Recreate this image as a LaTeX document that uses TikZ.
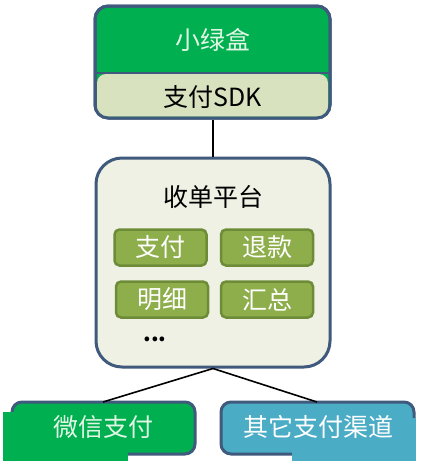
\documentclass[tikz,border=0pt]{standalone}
\usepackage{fontspec}
\newfontfamily\cjk{Noto Sans CJK SC}
\definecolor{bord}{HTML}{3F5A7C}
\definecolor{topgreen}{HTML}{00B050}
\definecolor{sdkfill}{HTML}{D8E2BE}
\definecolor{midfill}{HTML}{EEF1E3}
\definecolor{btnfill}{HTML}{8DAE4B}
\definecolor{btnbord}{HTML}{6E8C38}
\definecolor{mint}{HTML}{E2F6E6}
\definecolor{teal}{HTML}{4BACC6}
\tikzset{
  btn/.style={draw=btnbord, line width=2.5pt, fill=btnfill, rounded corners=5pt,
    minimum width=92pt, minimum height=36pt, text=white, font=\cjk\fontsize{25}{25}\selectfont, inner sep=0pt},
  lbl/.style={font=\cjk\fontsize{25}{25}\selectfont, inner sep=0pt},
  conn/.style={line width=1.6pt, black}
}
\begin{document}
\begin{tikzpicture}[x=1pt,y=-1pt]
\useasboundingbox (0,0) rectangle (421,461);
\fill[white] (0,0) rectangle (421,461);
% top box
\draw[bord, line width=3pt, fill=topgreen, rounded corners=13pt] (95,6) rectangle (330,118);
\fill[sdkfill, rounded corners=9pt] (97,74) rectangle (328,116.5);
\draw[bord, line width=2.5pt] (96.5,73) -- (328.5,73);
\draw[bord, line width=3pt, rounded corners=13pt] (95,6) rectangle (330,118);
\node[lbl, text=mint] (xlh) at (213,40) {小绿盒};
\node[lbl] (sdk) at (213,97) {支付SDK};
\coordinate (topb) at (213,119.5);
% middle box
\node[draw=bord, line width=3pt, fill=midfill, rounded corners=26pt, minimum width=234pt, minimum height=209pt, inner sep=0pt] (mid) at (213,262.5) {};
\node[lbl] (sd) at (213,197) {收单平台};
\node[btn] (zf) at (160.5,247.5) {支付};
\node[btn] (tk) at (267,247.5) {退款};
\node[btn] (mx) at (162,299.5) {明细};
\node[btn] (hz) at (267,299.5) {汇总};
\node[font=\cjk\bfseries\fontsize{22}{22}\selectfont, inner sep=0pt] (dots) at (155,339) {...};
\draw[conn] (topb) -- (mid.north);
% bottom boxes
\node[draw=bord, line width=3pt, fill=topgreen, rounded corners=10pt, minimum width=183pt, minimum height=52pt, inner sep=0pt] (wx) at (103.5,428) {};
\fill[topgreen] (3,412) rectangle (128,461);
\node[draw=bord, line width=3pt, fill=teal, rounded corners=10pt, minimum width=193pt, minimum height=52pt, inner sep=0pt] (qt) at (317.5,428) {};
\fill[teal] (292,418) rectangle (416,461);
\node[lbl, text=mint] (wxt) at (103,427) {微信支付};
\node[lbl, text=white] (qtt) at (318,427) {其它支付渠道};
\coordinate (wxc) at (103,402);
\coordinate (qtc) at (317,402);
\draw[conn] (mid.south) -- (wxc);
\draw[conn] (mid.south) -- (qtc);
\end{tikzpicture}
\end{document}
